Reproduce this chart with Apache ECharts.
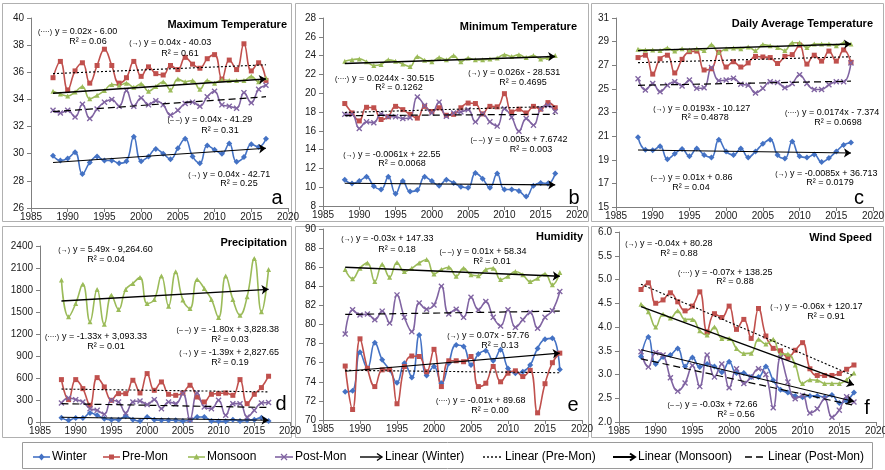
<!DOCTYPE html>
<html>
<head>
<meta charset="utf-8">
<script src="https://cdn.jsdelivr.net/npm/echarts@6/dist/echarts.min.js"></script>
<style>
html,body{margin:0;padding:0;background:#fff;}
#c{width:885px;height:470px;}
</style>
</head>
<body>
<div id="c"></div>
<script>
// ---- Seasonal series, 1988-2017 ----
const years = [1988,1989,1990,1991,1992,1993,1994,1995,1996,1997,1998,1999,2000,2001,2002,2003,2004,2005,2006,2007,2008,2009,2010,2011,2012,2013,2014,2015,2016,2017];
const yearTicks = [1985,1990,1995,2000,2005,2010,2015,2020];

// a: Maximum temperature (°C)
const maxWinter  = [29.85,29.5,29.65,30.1,28.5,29.35,29.8,29.5,29.5,29.3,29.45,31.25,29.45,29.8,30.35,30.0,29.6,30.4,31.1,29.8,29.3,30.6,30.3,30.0,30.75,29.4,29.75,30.7,30.5,31.1];
const maxPre     = [35.6,36.8,34.7,36.1,36.7,35.2,36.5,37.7,36.5,35.2,35.6,36.8,35.7,36.4,35.9,35.8,36.5,36.2,37.1,36.6,36.3,37.0,37.3,35.5,36.9,36.2,38.1,36.1,36.7,35.4];
const maxMonsoon = [34.6,34.4,34.25,34.55,34.95,34.05,34.3,34.65,35.1,35.05,35.2,34.9,35.15,34.6,34.95,35.3,34.7,35.5,35.3,35.4,34.75,35.4,35.2,35.45,35.4,35.4,35.4,35.7,35.3,35.6];
const maxPost    = [33.2,33.0,33.2,32.7,33.65,32.6,33.3,33.8,34.0,33.5,34.65,33.5,34.1,33.6,33.9,33.6,32.85,33.2,33.7,33.8,33.5,34.2,34.6,33.6,33.5,33.35,34.5,33.75,34.75,35.05];
const maxTrend   = [[29.35,30.4],[35.9,36.55],[34.45,35.5],[33.1,34.2]];   // winter, pre, monsoon, post: 1988 -> 2017
const maxTicks   = [26,28,30,32,34,36,38,40];
const maxEq      = ['y = 0.02x - 6.00','y = 0.04x - 40.03','y = 0.04x - 41.29','y = 0.04x - 42.71'];
const maxR2      = ['R² = 0.06','R² = 0.61','R² = 0.31','R² = 0.25'];
const maxEqKind  = ['pre','monsoon','post','winter'];

// b: Minimum temperature (°C)
const minWinter  = [10.8,10.4,10.65,11.1,10.1,9.75,11.1,9.3,10.65,9.55,9.7,11.1,10.65,10.15,10.8,10.45,10.05,9.95,11.5,10.9,9.95,11.45,9.75,9.75,9.6,9.0,10.15,10.45,10.4,11.45];
const minPre     = [18.9,17.9,17.05,18.5,18.45,17.2,17.5,18.6,18.25,17.75,17.35,18.6,18.05,18.45,17.65,17.75,18.45,18.95,18.9,17.8,18.6,18.55,19.95,18.0,18.3,17.9,18.6,18.3,19.0,18.45];
const minMonsoon = [23.4,23.55,23.65,23.35,22.95,23.05,23.55,23.4,23.1,22.85,23.9,23.5,23.35,23.8,23.55,24.0,23.35,23.75,23.55,23.55,23.65,23.75,24.1,23.9,24.1,23.8,24.0,23.65,23.8,24.0];
const minPost    = [17.75,17.75,16.25,16.95,16.85,17.8,17.5,17.5,17.3,17.4,19.6,18.7,17.9,19.05,17.55,17.9,18.0,18.25,16.95,17.8,16.95,16.5,18.35,17.45,15.95,17.3,16.6,18.35,18.7,18.05];
const minTrend   = [[10.42,10.25],[17.95,18.6],[23.16,23.91],[17.61,17.76]];
const minTicks   = [8,10,12,14,16,18,20,22,24,26,28];
const minEq      = ['y = 0.0244x - 30.515','y = 0.026x - 28.531','y = 0.005x + 7.6742','y = -0.0061x + 22.55'];
const minR2      = ['R² = 0.1262','R² = 0.4695','R² = 0.003','R² = 0.0068'];
const minEqKind  = ['pre','monsoon','post','winter'];

// c: Daily average temperature (°C)
const avgWinter  = [20.9,19.85,19.8,20.15,19.05,19.5,19.9,19.3,19.95,19.4,19.2,20.7,19.7,19.4,19.95,19.2,19.7,20.35,20.7,19.4,19.1,20.55,19.3,19.2,19.45,18.8,19.15,19.7,20.25,20.45];
const avgPre     = [27.65,27.85,26.25,27.55,27.85,26.35,27.5,28.15,28.2,26.6,26.7,28.1,26.85,27.3,26.85,27.2,27.75,27.7,27.65,27.15,27.75,27.9,28.7,27.1,27.85,27.35,28.2,27.35,28.3,27.25];
const avgMonsoon = [28.35,28.3,28.3,28.25,28.45,28.2,28.4,28.3,28.4,28.25,28.75,28.1,28.4,28.45,28.4,28.55,28.25,28.75,28.65,28.5,28.25,28.9,28.9,28.5,28.8,28.8,28.8,28.65,28.9,28.8];
const avgPost    = [25.85,24.9,25.45,24.75,25.3,25.6,25.25,25.75,25.05,25.1,26.8,25.7,25.75,25.9,25.4,25.3,24.65,25.05,25.6,25.55,25.1,25.45,26.2,25.45,24.95,24.95,25.35,25.6,25.6,27.2];
const avgTrend   = [[19.82,19.57],[27.22,27.72],[28.24,28.80],[25.3,25.65]];
const avgTicks   = [15,17,19,21,23,25,27,29,31];
const avgEq      = ['y = 0.0193x - 10.127','y = 0.0174x - 7.374','y = 0.01x + 0.86','y = -0.0085x + 36.713'];
const avgR2      = ['R² = 0.4878','R² = 0.0698','R² = 0.04','R² = 0.0179'];
const avgEqKind  = ['monsoon','pre','post','winter'];

// d: Precipitation (mm)
const precWinter  = [59,23,55,55,123,91,46,32,32,77,32,14,68,32,23,23,23,14,23,68,68,14,9,9,32,14,23,32,59,14];
const precPre     = [578,305,578,455,228,605,478,296,387,387,569,396,660,432,546,378,364,396,501,341,273,378,387,396,364,578,250,378,469,624];
const precMonsoon = [1935,1434,1616,1880,1366,1808,1334,1730,1534,1808,1890,1972,1616,1671,1990,1580,2049,1662,1548,1944,1821,1671,1425,1990,1671,1457,1707,2231,1502,2081];
const precPost    = [260,328,305,273,182,159,105,296,273,123,273,287,237,305,182,273,250,387,32,396,205,182,296,91,250,250,68,159,260,265];
const precTrend   = [[64.3,24.0],[449.3,410.7],[1649.5,1808.7],[250.0,197.8]];
const precTicks   = [0,300,600,900,1200,1500,1800,2100,2400];
const precEq      = ['y = 5.49x - 9,264.60','y = -1.33x + 3,093.33','y = -1.80x + 3,828.38','y = -1.39x + 2,827.65'];
const precR2      = ['R² = 0.04','R² = 0.01','R² = 0.03','R² = 0.19'];
const precEqKind  = ['monsoon','pre','post','winter'];

// e: Relative humidity (%)
const humWinter  = [72.95,73.05,77.1,75.4,78.1,76.3,75.25,73.9,75.95,74.45,78.9,74.65,75.6,73.85,75.95,77.85,77.7,75.75,76.9,77.25,76.2,77.35,75.4,74.9,75.05,75.75,77.5,78.45,78.55,75.3];
const humPre     = [75.65,71.1,78.5,75.4,73.5,75.25,75.3,71.7,75.6,76.7,76.65,75.05,77.4,73.5,76.2,76.2,76.1,76.65,73.5,73.85,75.6,74.0,74.9,75.15,74.55,75.2,70.75,73.8,76.0,77.0];
const humMonsoon = [85.75,84.8,85.9,86.45,84.5,86.3,84.95,86.5,85.55,85.9,86.45,86.8,85.3,85.75,86.0,85.05,85.9,85.2,85.1,85.75,85.9,84.7,85.05,85.55,85.2,84.5,84.85,85.3,84.15,85.45];
const humPost    = [79.0,81.55,81.0,81.1,80.5,81.4,80.15,83.1,80.75,79.25,82.25,81.6,82.05,84.0,81.1,81.6,80.75,82.85,81.55,82.4,80.75,79.85,81.55,79.7,80.5,81.25,79.6,80.75,81.45,83.45];
const humTrend   = [[75.1,77.0],[75.2,74.95],[86.0,85.05],[81.05,81.4]];
const humTicks   = [70,72,74,76,78,80,82,84,86,88,90];
const humEq      = ['y = -0.03x + 147.33','y = 0.01x + 58.34','y = 0.07x - 57.76','y = -0.01x + 89.68'];
const humR2      = ['R² = 0.18','R² = 0.01','R² = 0.13','R² = 0.00'];
const humEqKind  = ['monsoon','post','winter','pre'];

// f: Wind speed (m/s)
const windWinter  = [3.38,3.79,3.22,3.37,3.41,3.55,3.17,3.36,3.16,3.22,3.17,3.05,3.27,3.03,3.03,2.95,2.95,3.17,2.88,2.68,2.62,2.55,2.52,2.55,2.55,2.52,2.57,2.4,2.45,2.62];
const windPre     = [4.79,4.93,4.5,4.57,4.72,4.53,4.34,4.44,4.74,3.9,4.28,4.2,4.44,3.95,4.16,3.76,4.39,3.81,3.55,3.5,3.36,3.51,3.67,3.12,2.98,2.98,2.98,3.02,3.11,3.2];
const windMonsoon = [4.48,4.32,4.0,4.27,4.19,4.34,4.16,4.16,3.92,3.83,4.0,3.76,3.76,3.55,3.44,3.45,3.74,3.64,3.74,3.43,3.43,3.2,2.81,2.89,2.88,2.81,2.81,2.81,2.89,3.03];
const windPost    = [3.48,3.16,3.46,3.41,2.93,2.65,2.82,3.19,2.75,3.41,2.95,3.22,2.72,3.12,2.81,2.95,3.12,3.0,2.3,3.36,2.84,2.49,2.56,2.19,2.28,2.49,2.1,2.25,2.53,2.42];
const windTrend   = [[3.52,2.43],[4.9,2.97],[4.43,2.78],[3.33,2.35]];
const windTicks   = [2.0,2.5,3.0,3.5,4.0,4.5,5.0,5.5,6.0];
const windEq      = ['y = -0.04x + 80.28','y = -0.07x + 138.25','y = -0.06x + 120.17','y = -0.03x + 72.66'];
const windR2      = ['R² = 0.88','R² = 0.88','R² = 0.91','R² = 0.56'];
const windEqKind  = ['winter','pre','monsoon','post'];

const seasonNames = ['Winter','Pre-Mon','Monsoon','Post-Mon'];
const seasonKeys  = ['winter','pre','monsoon','post'];

// ---- Styling ----
const FONT = '"Liberation Sans", Arial, sans-serif';
const COLOR = { winter:'#4472C4', pre:'#C0504D', monsoon:'#9BBB59', post:'#8064A2' };
const X_SYM = 'path://M0,1.6L1.6,0L5,3.4L8.4,0L10,1.6L6.6,5L10,8.4L8.4,10L5,6.6L1.6,10L0,8.4L3.4,5Z';
const SYMBOL = { winter:'diamond', pre:'rect', monsoon:'triangle', post:X_SYM };
const SYMSIZE = { winter:6, pre:5, monsoon:5, post:6 };
const TREND = {
  winter:  { type:'solid', width:1.1, arrow:true },
  pre:     { type:[2,2],   width:1.1, arrow:false },
  monsoon: { type:'solid', width:1.4, arrow:true },
  post:    { type:[7,4],   width:1.2, arrow:false }
};
const PREFIX = { winter:'(→)', monsoon:'(→)', pre:'(····)', post:'(– –)' };

// ---- Panel layout ----
const panels = [
  { grid:{left:31, top:18, width:257, height:190}, min:26, max:40, ticks:maxTicks, dec:0,
    data:[maxWinter,maxPre,maxMonsoon,maxPost], trend:maxTrend,
    title:'Maximum Temperature', titleAt:[287,25], letter:'a', letterAt:[277,198],
    eq:maxEq, r2:maxR2, kind:maxEqKind,
    notesAt:[[55,32,88,42],[144,43,180,54],[185,120,220,131],[203,175,239,184]],
    frame:[2,3,289,218] },
  { grid:{left:323, top:18, width:254, height:188}, min:8, max:28, ticks:minTicks, dec:0,
    data:[minWinter,minPre,minMonsoon,minPost], trend:minTrend,
    title:'Minimum Temperature', titleAt:[577,27], letter:'b', letterAt:[574,198],
    eq:minEq, r2:minR2, kind:minEqKind,
    notesAt:[[352,79,399,88],[483,73,523,83],[488,140,531,150],[358,155,402,164]],
    frame:[295,3,293,218] },
  { grid:{left:616, top:18, width:257, height:189}, min:15, max:31, ticks:avgTicks, dec:0,
    data:[avgWinter,avgPre,avgMonsoon,avgPost], trend:avgTrend,
    title:'Daily Average Temperature', titleAt:[873,24], letter:'c', letterAt:[859,198],
    eq:avgEq, r2:avgR2, kind:avgEqKind,
    notesAt:[[668,109,705,118],[802,113,838,123],[668,178,691,188],[790,174,830,183]],
    frame:[591,3,292,218] },
  { grid:{left:40, top:246, width:250, height:176}, min:0, max:2400, ticks:precTicks, dec:0,
    data:[precWinter,precPre,precMonsoon,precPost], trend:precTrend,
    title:'Precipitation', titleAt:[287,243], letter:'d', letterAt:[281,404],
    eq:precEq, r2:precR2, kind:precEqKind,
    notesAt:[[73,250,106,260],[62,337,106,347],[194,330,230,340],[194,353,230,363]],
    frame:[2,226,289,211] },
  { grid:{left:323, top:229, width:259, height:191}, min:70, max:90, ticks:humTicks, dec:0,
    data:[humWinter,humPre,humMonsoon,humPost], trend:humTrend,
    title:'Humidity', titleAt:[583,237], letter:'e', letterAt:[573,405],
    eq:humEq, r2:humR2, kind:humEqKind,
    notesAt:[[356,239,397,250],[457,252,492,262],[462,336,500,346],[453,401,490,411]],
    frame:[295,226,293,211] },
  { grid:{left:619, top:232, width:257, height:190}, min:2, max:6, ticks:windTicks, dec:1,
    data:[windWinter,windPre,windMonsoon,windPost], trend:windTrend,
    title:'Wind Speed', titleAt:[872,238], letter:'f', letterAt:[867,408],
    eq:windEq, r2:windR2, kind:windEqKind,
    notesAt:[[640,244,679,254],[695,273,735,282],[785,307,826,317],[685,405,736,415]],
    frame:[591,226,292,211] }
];

const AXIS_COLOR = '#7f7f7f';
const LABEL_COLOR = '#1a1a1a';

const grids = [], xAxes = [], yAxes = [], series = [], graphics = [];

panels.forEach((p, pi) => {
  grids.push(Object.assign({ containLabel:false, outerBoundsMode:'none' }, p.grid));
  xAxes.push({
    type:'value', gridIndex:pi, min:1985, max:2020,
    axisLine:{ show:true, onZero:false, lineStyle:{ color:AXIS_COLOR, width:1 } },
    axisTick:{ show:true, inside:false, length:4, customValues:yearTicks, lineStyle:{ color:AXIS_COLOR } },
    axisLabel:{ show:true, customValues:yearTicks, margin:4, fontSize:10, fontFamily:FONT, color:LABEL_COLOR,
                formatter: v => String(v) },
    splitLine:{ show:false }
  });
  yAxes.push({
    type:'value', gridIndex:pi, min:p.min, max:p.max,
    axisLine:{ show:true, onZero:false, lineStyle:{ color:AXIS_COLOR, width:1 } },
    axisTick:{ show:true, inside:false, length:4, customValues:p.ticks, lineStyle:{ color:AXIS_COLOR } },
    axisLabel:{ show:true, customValues:p.ticks, margin:7, fontSize:10, fontFamily:FONT, color:LABEL_COLOR,
                formatter: v => Number(v).toFixed(p.dec) },
    splitLine:{ show:false }
  });

  seasonKeys.forEach((key, si) => {
    const vals = p.data[si];
    const tr = p.trend[si];
    const ts = TREND[key];
    series.push({
      type:'line', name:seasonNames[si], xAxisIndex:pi, yAxisIndex:pi,
      data: years.map((yr, i) => [yr, vals[i]]),
      smooth:0.45, showSymbol:true, symbol:SYMBOL[key], symbolSize:SYMSIZE[key],
      lineStyle:{ color:COLOR[key], width:1.6 },
      itemStyle:{ color:COLOR[key], borderWidth:0 },
      emphasis:{ disabled:true }, silent:true, animation:false, z:2,
      markLine:{
        silent:true, animation:false, precision:4,
        symbol: ts.arrow ? ['none','arrow'] : ['none','none'],
        symbolSize: 7,
        label:{ show:false },
        emphasis:{ disabled:true },
        lineStyle:{ color:'#000', width:ts.width, type:ts.type },
        data:[[ { coord:[years[0], tr[0]] }, { coord:[years[years.length-1], tr[1]] } ]]
      }
    });
  });

  // panel frame
  graphics.push({ type:'rect', silent:true, z:0,
    shape:{ x:p.frame[0]+0.5, y:p.frame[1]+0.5, width:p.frame[2], height:p.frame[3] },
    style:{ fill:'none', stroke:'#b0b0b0', lineWidth:1 } });

  // title
  graphics.push({ type:'text', silent:true, z:10, x:p.titleAt[0], y:p.titleAt[1],
    style:{ text:p.title, font:'bold 11px ' + FONT, fill:'#000',
            align:'right', verticalAlign:'middle', textAlign:'right', textVerticalAlign:'middle' } });
  // panel letter
  graphics.push({ type:'text', silent:true, z:10, x:p.letterAt[0], y:p.letterAt[1],
    style:{ text:p.letter, font:'20px ' + FONT, fill:'#000',
            align:'center', verticalAlign:'middle', textAlign:'center', textVerticalAlign:'middle' } });

  // trendline equations
  p.eq.forEach((eq, k) => {
    const at = p.notesAt[k];
    graphics.push({ type:'text', silent:true, z:10, x:at[0]-3, y:at[1],
      style:{ text:PREFIX[p.kind[k]], font:'7px ' + FONT, fill:'#000',
              align:'right', verticalAlign:'middle', textAlign:'right', textVerticalAlign:'middle' } });
    graphics.push({ type:'text', silent:true, z:10, x:at[0], y:at[1],
      style:{ text:eq, font:'9px ' + FONT, fill:'#000',
              align:'left', verticalAlign:'middle', textAlign:'left', textVerticalAlign:'middle' } });
    graphics.push({ type:'text', silent:true, z:10, x:at[2], y:at[3],
      style:{ text:p.r2[k], font:'9px ' + FONT, fill:'#000',
              align:'center', verticalAlign:'middle', textAlign:'center', textVerticalAlign:'middle' } });
  });
});

// ---- Legend ----
const LEG_Y = 457;
graphics.push({ type:'rect', silent:true, z:0,
  shape:{ x:22.5, y:442.5, width:850, height:26 },
  style:{ fill:'#fff', stroke:'#9a9a9a', lineWidth:1 } });

function legendText(x, label) {
  graphics.push({ type:'text', silent:true, z:10, x:x, y:LEG_Y,
    style:{ text:label, font:'12px ' + FONT, fill:'#000',
            align:'left', verticalAlign:'middle', textAlign:'left', textVerticalAlign:'middle' } });
}
function legendSeries(x1, x2, key, label) {
  const c = COLOR[key], cx = (x1 + x2) / 2, cy = LEG_Y;
  graphics.push({ type:'line', silent:true, z:10, shape:{ x1:x1, y1:cy, x2:x2, y2:cy }, style:{ stroke:c, lineWidth:1.6 } });
  if (key === 'winter') {
    graphics.push({ type:'polygon', silent:true, z:11, shape:{ points:[[cx,cy-3.5],[cx+3,cy],[cx,cy+3.5],[cx-3,cy]] }, style:{ fill:c } });
  } else if (key === 'pre') {
    graphics.push({ type:'rect', silent:true, z:11, shape:{ x:cx-2.5, y:cy-2.5, width:5, height:5 }, style:{ fill:c } });
  } else if (key === 'monsoon') {
    graphics.push({ type:'polygon', silent:true, z:11, shape:{ points:[[cx,cy-3.2],[cx+3,cy+2.5],[cx-3,cy+2.5]] }, style:{ fill:c } });
  } else {
    graphics.push({ type:'line', silent:true, z:11, shape:{ x1:cx-3, y1:cy-3, x2:cx+3, y2:cy+3 }, style:{ stroke:c, lineWidth:1.3 } });
    graphics.push({ type:'line', silent:true, z:11, shape:{ x1:cx-3, y1:cy+3, x2:cx+3, y2:cy-3 }, style:{ stroke:c, lineWidth:1.3 } });
  }
  legendText(x2 + 2, label);
}
function legendTrend(x1, x2, key, label) {
  const ts = TREND[key], cy = LEG_Y;
  graphics.push({ type:'line', silent:true, z:10, shape:{ x1:x1, y1:cy, x2:x2, y2:cy },
    style:{ stroke:'#000', lineWidth: key === 'monsoon' ? 2 : 1.4, lineDash: Array.isArray(ts.type) ? ts.type : null } });
  if (ts.arrow) {
    graphics.push({ type:'polyline', silent:true, z:10, shape:{ points:[[x2-5,cy-3.5],[x2,cy],[x2-5,cy+3.5]] },
      style:{ stroke:'#000', fill:'none', lineWidth: key === 'monsoon' ? 2 : 1.4 } });
  }
  legendText(x2 + 3, label);
}
legendSeries(33, 50, 'winter', 'Winter');
legendSeries(103, 120, 'pre', 'Pre-Mon');
legendSeries(188, 205, 'monsoon', 'Monsoon');
legendSeries(275, 293, 'post', 'Post-Mon');
legendTrend(360, 382, 'winter', 'Linear (Winter)');
legendTrend(483, 502, 'pre', 'Linear (Pre-Mon)');
legendTrend(613, 635, 'monsoon', 'Linear (Monsoon)');
legendTrend(745, 765, 'post', 'Linear (Post-Mon)');

const chart = echarts.init(document.getElementById('c'), null, { renderer:'canvas' });
chart.setOption({
  animation:false,
  backgroundColor:'#fff',
  textStyle:{ fontFamily:FONT },
  grid:grids, xAxis:xAxes, yAxis:yAxes, series:series,
  graphic:{ elements:graphics }
});
</script>
</body>
</html>
